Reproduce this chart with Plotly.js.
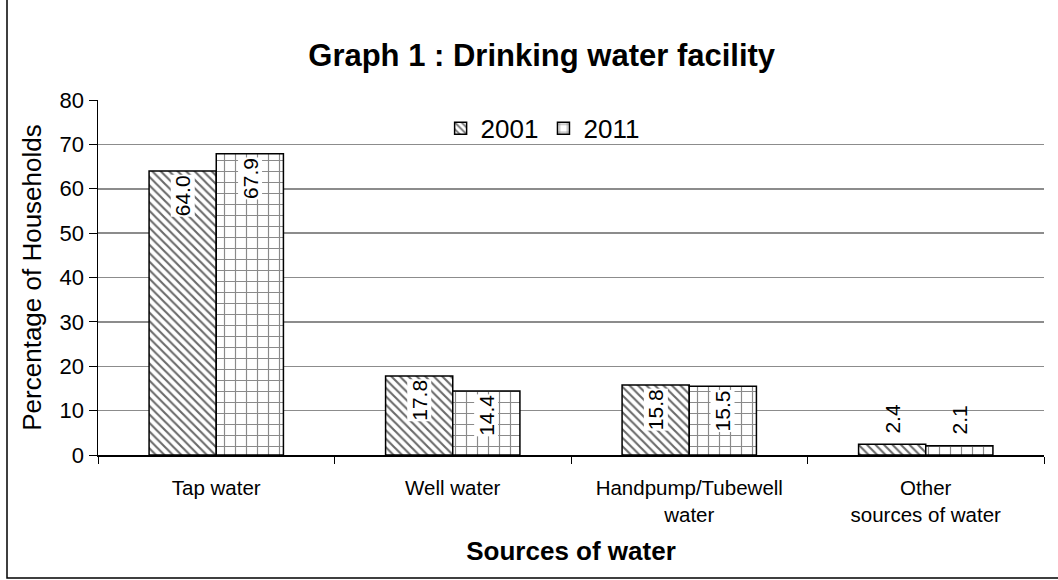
<!DOCTYPE html>
<html><head><meta charset="utf-8">
<script src="https://cdn.plot.ly/plotly-3.0.1.min.js"></script>
<style>html,body{margin:0;padding:0;background:#fff}#chart{width:1058px;height:580px}</style>
</head><body><div id="chart"></div>
<script>
const categories = ["Tap water", "Well water", "Handpump/Tubewell<br>water", "Other<br>sources of water"];
const series2001 = [64.0, 17.8, 15.8, 2.4];
const series2011 = [67.9, 14.4, 15.5, 2.1];
const seriesNames = ["2001", "2011"];

const W = 1058, H = 580, ml = 98, mr = 14, mt = 100, mb = 125;
const pw = W - ml - mr, ph = H - mt - mb;
const FONT = 'Liberation Sans, Arial, sans-serif';

const traces = [
  {type: 'bar', name: seriesNames[0], x: categories, y: series2001,
   marker: {color: '#ffffff', line: {color: '#000', width: 1.5},
            pattern: {shape: '\\', fgcolor: '#6a6a6a', bgcolor: '#fff', size: 6, solidity: 0.35}},
   hoverinfo: 'skip'},
  {type: 'bar', name: seriesNames[1], x: categories, y: series2011,
   marker: {color: '#ffffff', line: {color: '#000', width: 1.5},
            pattern: {shape: '+', fgcolor: '#8a8a8a', bgcolor: '#fff', size: 11, solidity: 0.2}},
   hoverinfo: 'skip'}
];

const annotations = [];
const offs = [-33.5, 33.5];
[series2001, series2011].forEach((s, si) => {
  s.forEach((v, i) => {
    const inside = v > 5;
    annotations.push({
      x: categories[i], y: v, xref: 'x', yref: 'y',
      text: v.toFixed(1), showarrow: false, textangle: -90,
      xshift: offs[si], yanchor: inside ? 'top' : 'bottom',
      yshift: inside ? -3 : 10,
      bgcolor: inside ? '#fff' : 'rgba(0,0,0,0)',
      borderpad: 0,
      font: {family: FONT, size: 21, color: '#000'}
    });
  });
});

const layout = {
  width: W, height: H,
  margin: {l: ml, r: mr, t: mt, b: mb},
  paper_bgcolor: '#fff', plot_bgcolor: '#fff',
  font: {family: FONT, color: '#000'},
  title: {text: '<b>Graph 1 : Drinking water facility</b>', x: 0.512, xanchor: 'center',
          y: 1 - 55 / H, yanchor: 'middle', font: {size: 31, color: '#000'}},
  barmode: 'group', bargap: 0.432, bargroupgap: 0,
  showlegend: true,
  legend: {orientation: 'h', x: 0.47, xanchor: 'center', y: 0.92, yanchor: 'middle',
           font: {size: 26}, bgcolor: 'rgba(0,0,0,0)', itemwidth: 30, tracegroupgap: 0},
  xaxis: {type: 'category', showgrid: false, showline: true, linecolor: '#000', linewidth: 1.5,
          ticks: 'outside', tickson: 'boundaries', ticklen: 7, tickcolor: '#000',
          tickfont: {size: 20.5}, ticklabelstandoff: 14, fixedrange: true,
          title: {text: '<b>Sources of water</b>', font: {size: 26}, standoff: 17}},
  yaxis: {range: [0, 80], dtick: 10, showgrid: true, gridcolor: '#8c8c8c', gridwidth: 1.5,
          showline: true, linecolor: '#000', linewidth: 1.5, ticks: 'outside', ticklen: 8,
          tickcolor: '#000', tickfont: {size: 22}, zeroline: false, fixedrange: true,
          title: {text: 'Percentage of Households', font: {size: 26}, standoff: 10}},
  annotations: annotations,
  shapes: [{type: 'rect', xref: 'paper', yref: 'paper',
            x0: (7 - ml) / pw, x1: (W + 10 - ml) / pw,
            y0: -(H - 2 - mt - ph) / ph, y1: 1 + (mt + 10) / ph,
            line: {color: '#000', width: 1.5}, fillcolor: 'rgba(0,0,0,0)', layer: 'below'}]
};

Plotly.newPlot('chart', traces, layout, {displayModeBar: false, staticPlot: true});
</script></body></html>
